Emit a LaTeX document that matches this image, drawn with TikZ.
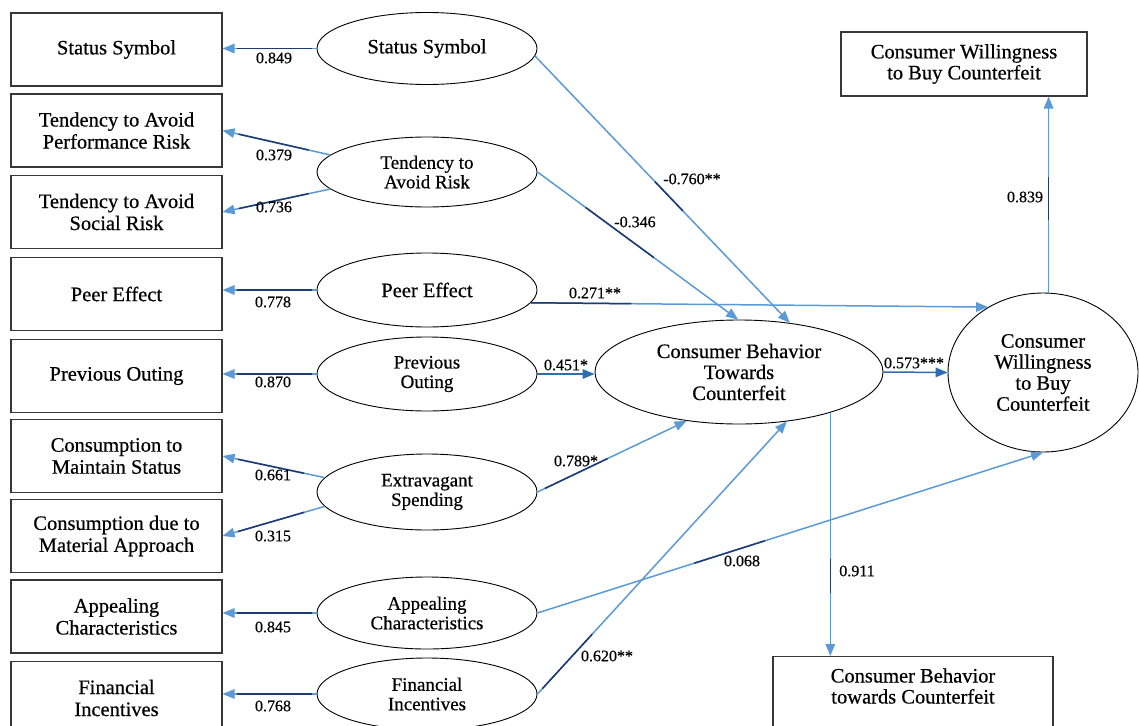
\documentclass[tikz,border=0pt]{standalone}
\usepackage{fontspec}
\setmainfont{Liberation Serif}[FakeBold=0.5]
\usetikzlibrary{arrows.meta,shapes.geometric}
\definecolor{lb}{RGB}{91,155,213}
\definecolor{nv}{RGB}{30,58,112}
\definecolor{md}{RGB}{46,108,180}
\definecolor{bd}{RGB}{55,55,55}
\tikzset{
  box/.style={draw=bd, line width=1.1pt, minimum width=211pt, minimum height=73pt,
    inner sep=0pt, align=center, font=\fontsize{20.5}{22}\selectfont},
  lat/.style={ellipse, draw=black, line width=0.9pt, minimum width=220pt,
    minimum height=72pt, inner sep=0pt, align=center},
  big/.style={font=\fontsize{20.5}{21}\selectfont},
  small/.style={font=\fontsize{19}{19.5}\selectfont},
  link/.style={draw=lb, line width=1.5pt, -{Triangle[length=12pt,width=9.5pt]}},
  dk/.style={draw=nv, line width=1.5pt},
  wt/.style={font=\fontsize{16}{18}\selectfont, inner sep=1pt},
}
\newcommand\addlink[5][lb]{%
  \draw[link,draw=#1] #2 -- #3 coordinate[pos=#4] (tmpa) coordinate[pos=#5] (tmpb);
  \draw[dk] (tmpa) -- (tmpb);}
\begin{document}
\begin{tikzpicture}[x=1pt,y=-1pt]
\fill[white] (0,0) rectangle (1139,725);
\useasboundingbox (0,0) rectangle (1139,725);
% indicator boxes
\node[box] (b1) at (116.5,49.5) {Status Symbol};
\node[box] (b2) at (116.5,130.5) {Tendency to Avoid\\Performance Risk};
\node[box] (b3) at (116.5,212) {Tendency to Avoid\\Social Risk};
\node[box] (b4) at (116.5,294) {Peer Effect};
\node[box] (b5) at (116.5,376) {Previous Outing};
\node[box] (b6) at (116.5,456) {Consumption to\\Maintain Status};
\node[box] (b7) at (116.5,536) {Consumption due to\\Material Approach};
\node[box] (b8) at (116.5,616.5) {Appealing\\Characteristics};
\node[box] (b9) at (116.5,698) {Financial\\Incentives};
% latent variables
\node[lat,big] (ss) at (427,48.5) {Status Symbol};
\node[lat,small,minimum height=70pt] (tr) at (427,172) {Tendency to\\Avoid Risk};
\node[lat,big,minimum height=74pt] (pe) at (427,290) {Peer Effect};
\node[lat,small,minimum height=74pt] (po) at (427,374) {Previous\\Outing};
\node[lat,small,minimum height=76pt] (es) at (427,492) {Extravagant\\Spending};
\node[lat,small] (ac) at (427,613) {Appealing\\Characteristics};
\node[lat,small] (fi) at (427,694) {Financial\\Incentives};
\node[lat,big,minimum width=288pt,minimum height=104pt] (cb) at (739,372) {Consumer Behavior\\Towards\\Counterfeit};
\node[lat,big,minimum width=190pt,minimum height=159pt] (cw) at (1043,372.5) {Consumer\\Willingness\\to Buy\\Counterfeit};
% outcome boxes
\node[box,minimum width=246pt,minimum height=64pt,font=\fontsize{20.5}{21}\selectfont] (tb) at (964,64) {Consumer Willingness\\to Buy Counterfeit};
\node[box,minimum width=280pt,minimum height=90pt,anchor=north] (bb) at (913,656) {};
\node[font=\fontsize{20.5}{21}\selectfont, align=center, inner sep=0pt] (bbt) at (913,686) {Consumer Behavior\\towards Counterfeit};
% measurement links
\addlink{(ss.west)}{(ss.west -| b1.east)}{0.05}{0.85}
\addlink{(tr.170)}{(b2.east)}{0.2}{0.85}
\addlink{(tr.190)}{(b3.east)}{0.2}{0.85}
\addlink{(pe.west)}{(pe.west -| b4.east)}{0.05}{0.85}
\addlink{(po.west)}{(po.west -| b5.east)}{0.05}{0.85}
\addlink{(es.172)}{(b6.east)}{0.2}{0.85}
\addlink{(es.188)}{(b7.east)}{0.2}{0.85}
\addlink{(ac.west)}{(ac.west -| b8.east)}{0.05}{0.85}
\addlink{(fi.west)}{(fi.west -| b9.east)}{0.05}{0.85}
% structural links
\addlink{(ss.-4)}{(cb.44)}{0.47}{0.58}
\addlink{(tr.east)}{(cb.91)}{0.24}{0.58}
\addlink{(pe.-7)}{(cw.130)}{0.0}{0.22}
\draw[link,draw=md] (po.east) -- (po.east -| cb.west);
\addlink{(es.east)}{(cb.-137)}{0.05}{0.47}
\addlink{(ac.east)}{(cw.south)}{0.31}{0.45}
\addlink{(fi.east)}{(cb.-46)}{0.02}{0.22}
\draw[link,draw=md] (cb.east) -- (cw.west);
\addlink{(cb.-24)}{(cb.-24 |- bb.north)}{0.6}{0.74}
\addlink{(cw.86)}{(cw.86 |- tb.south)}{0.37}{0.59}
% coefficients
\node[wt] (l1) at (274,58) {0.849};
\node[wt] (l2) at (274,155) {0.379};
\node[wt] (l3) at (274,207) {0.736};
\node[wt] (l4) at (273,302) {0.778};
\node[wt] (l5) at (273,382) {0.870};
\node[wt] (l6) at (273,475) {0.661};
\node[wt] (l7) at (273,536) {0.315};
\node[wt] (l8) at (273,627) {0.845};
\node[wt] (l9) at (273,706) {0.768};
\node[wt] (s1) at (692,179) {-0.760**};
\node[wt] (s2) at (635,222) {-0.346};
\node[wt] (s3) at (595,293) {0.271**};
\node[wt] (s4) at (566,365) {0.451*};
\node[wt] (s5) at (576,461) {0.789*};
\node[wt] (s6) at (742,561) {0.068};
\node[wt] (s7) at (607,656) {0.620**};
\node[wt] (s8) at (914,363) {0.573***};
\node[wt] (s9) at (857,571) {0.911};
\node[wt] (s10) at (1025,197) {0.839};
\end{tikzpicture}
\end{document}
